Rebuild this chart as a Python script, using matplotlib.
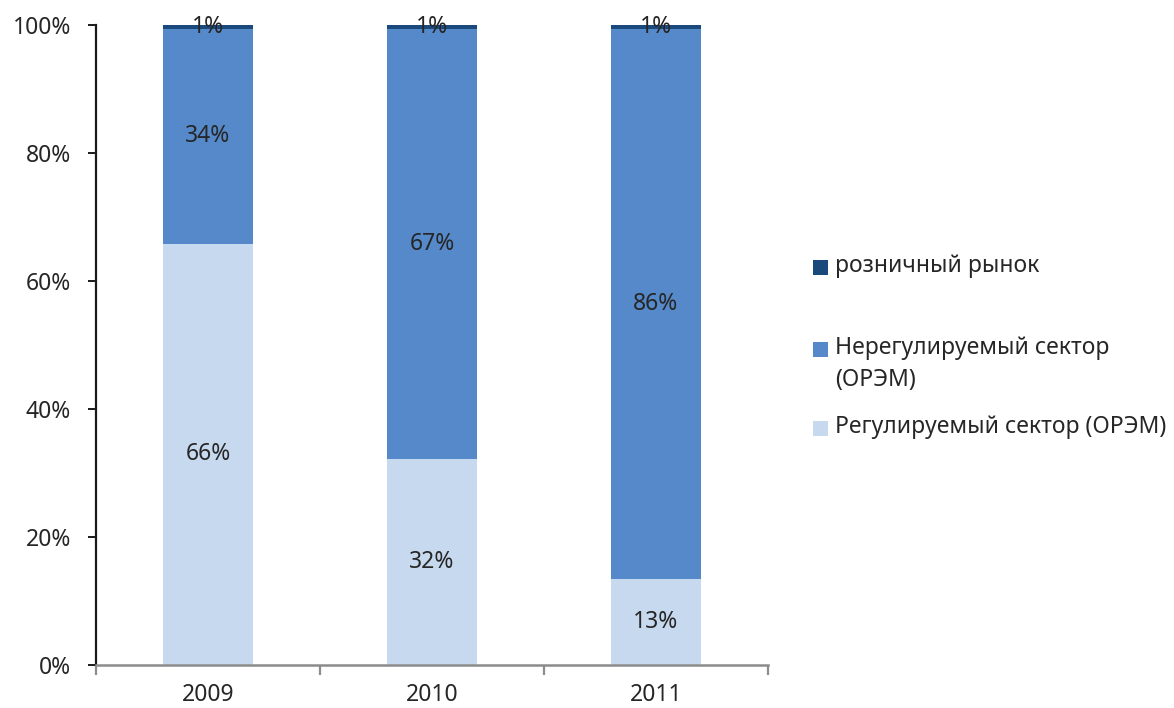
import numpy as np
import matplotlib.pyplot as plt
from matplotlib.patches import Rectangle
from matplotlib.ticker import PercentFormatter

plt.rcParams['font.family'] = ['Noto Sans', 'DejaVu Sans']

# Data (share of volume, %)
years = ["2009", "2010", "2011"]
regulated = [65.8, 32.2, 13.4]      # Регулируемый сектор (ОРЭМ)
unregulated = [33.6, 67.2, 86.0]    # Нерегулируемый сектор (ОРЭМ)
retail = [0.6, 0.6, 0.6]            # розничный рынок

series_names = ["Регулируемый сектор (ОРЭМ)",
                "Нерегулируемый сектор\n(ОРЭМ)",
                "розничный рынок"]
colors = ["#C6D9EE", "#5589C9", "#1A4A7C"]
text_color = "#262626"
fs = 16.5

W, H = 1174, 708
fig = plt.figure(figsize=(W / 100, H / 100), dpi=100)
ax = fig.add_axes([96 / W, 1 - 665 / H, 672 / W, 640 / H])

x = np.arange(len(years))
bottom = np.zeros(len(years))
for vals, name, c in zip([regulated, unregulated, retail], series_names, colors):
    vals = np.array(vals)
    ax.bar(x, vals, width=0.4, bottom=bottom, color=c, label=name,
           edgecolor="none", zorder=2)
    for xi, v, bt in zip(x, vals, bottom):
        ax.text(xi, bt + v / 2, f"{round(v)}%", ha="center", va="center",
                fontsize=fs, color=text_color, zorder=3)
    bottom += vals

ax.set_xlim(-0.5, 2.5)
ax.set_ylim(0, 100)
ax.set_yticks(np.arange(0, 101, 20))
ax.yaxis.set_major_formatter(PercentFormatter(decimals=0))
ax.set_xticks(x)
ax.set_xticklabels(years)
ax.set_xticks([-0.5, 0.5, 1.5, 2.5], minor=True)

for s in ["top", "right"]:
    ax.spines[s].set_visible(False)
ax.spines["left"].set_color("#1a1a1a")
ax.spines["left"].set_linewidth(1.6)
ax.spines["bottom"].set_color("#8c8c8c")
ax.spines["bottom"].set_linewidth(1.8)

ax.tick_params(axis="y", length=6, width=1.4, color="#1a1a1a",
               labelsize=fs, labelcolor=text_color, pad=12)
ax.tick_params(axis="x", which="major", length=0, labelsize=fs,
               labelcolor=text_color, pad=13)
ax.tick_params(axis="x", which="minor", length=7, width=1.6, color="#8c8c8c")

# legend drawn by hand: top segment first, marker next to the first text line
legend_rows = [(2, 267), (1, 349), (0, 428)]  # (series index, y of first line in px)
for idx, ypx in legend_rows:
    fig.patches.append(Rectangle((813 / W, 1 - (ypx + 8) / H), 15 / W, 15 / H,
                                 transform=fig.transFigure, figure=fig,
                                 facecolor=colors[idx], edgecolor="none"))
    fig.text(835 / W, 1 - (ypx - 13) / H, series_names[idx], ha="left", va="top",
             fontsize=fs, color=text_color, linespacing=1.45)

fig.savefig("out.png", dpi=100)
